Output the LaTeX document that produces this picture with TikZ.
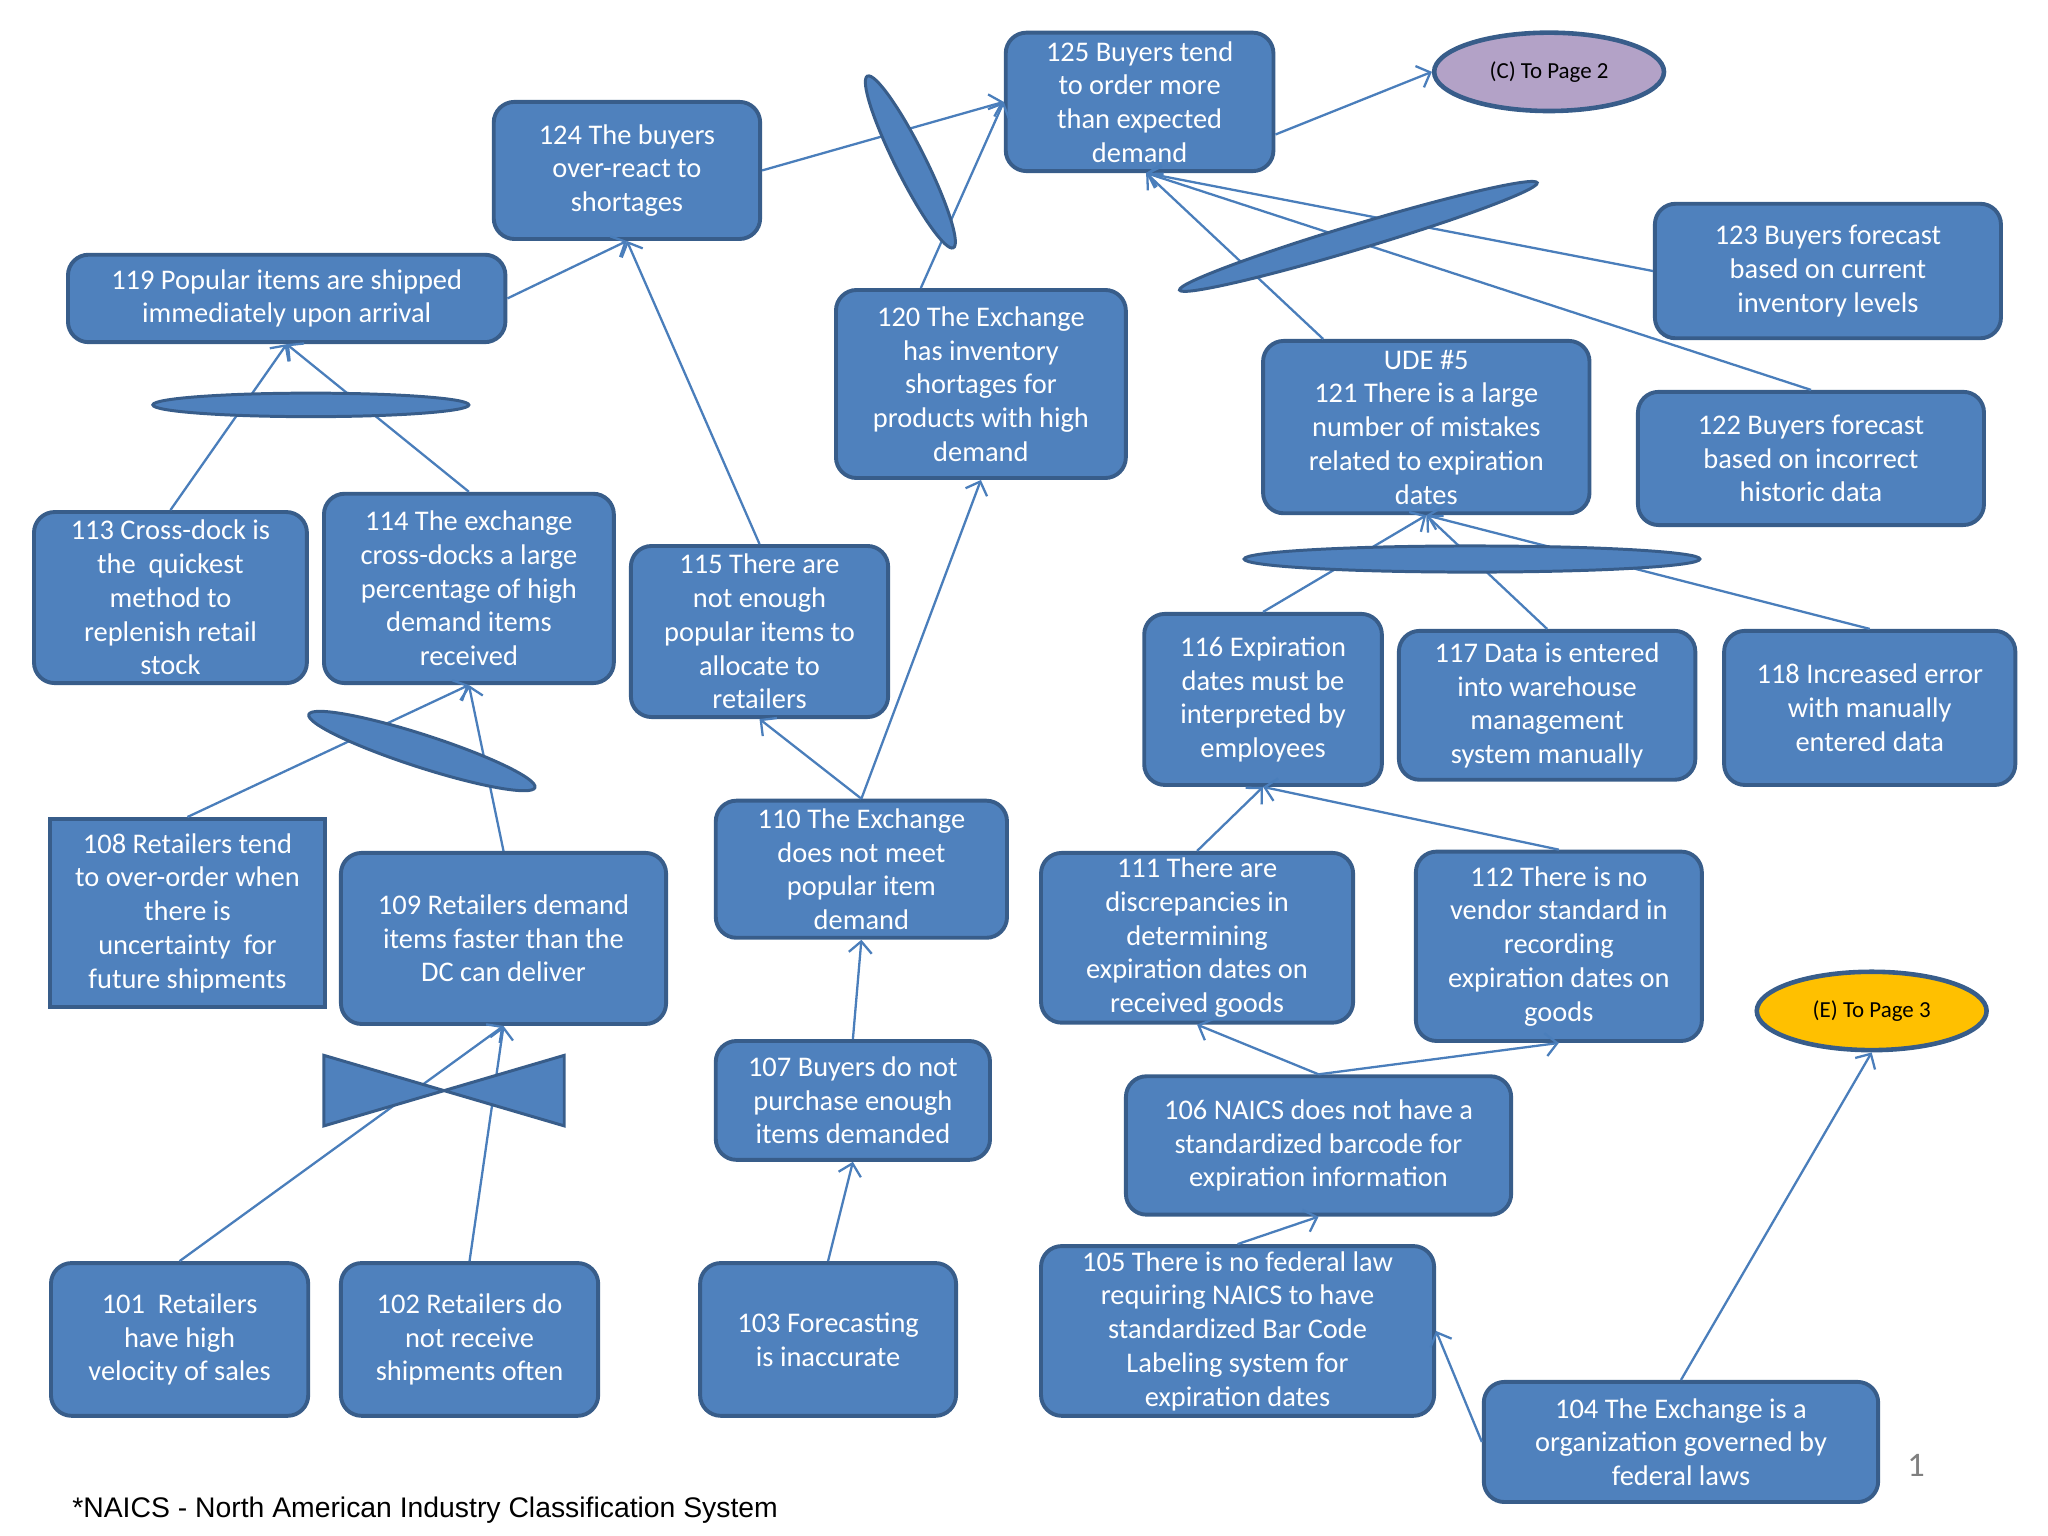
\documentclass[tikz,border=0pt]{standalone}
\usepackage{fontspec}
\setmainfont{Carlito}
\newfontfamily\arialf{Liberation Sans}
\usetikzlibrary{shapes.geometric,arrows.meta}
\definecolor{boxfill}{HTML}{4F81BD}
\definecolor{boxline}{HTML}{385D8A}
\definecolor{connc}{HTML}{4A7EBB}
\definecolor{lav}{HTML}{B3A2C7}
\definecolor{gold}{HTML}{FFC000}
\tikzset{
 box/.style={draw=boxline, fill=boxfill, line width=1.7pt, rounded corners=9pt, text=white, align=center, font=\fontsize{12.4}{14.7}\selectfont, inner sep=0pt},
 sqbox/.style={box, rounded corners=0pt},
 gate/.style={ellipse, draw=boxline, fill=boxfill, line width=1.3pt, inner sep=0pt},
 pageref/.style={ellipse, draw=boxline, line width=2pt, inner sep=0pt, minimum width=3.52cm, minimum height=1.2cm, font=\fontsize{10}{12}\selectfont, text=black},
 link/.style={draw=connc, line width=1pt, -{Straight Barb[length=5pt,width=10pt]}},
}
\begin{document}
\begin{tikzpicture}[x=0.02cm,y=-0.02cm]
\useasboundingbox (0,0) rectangle (1568,1176);
% boxes
\node[box, minimum width=4.10cm, minimum height=2.12cm] (c125) at (872.5,78) {125 Buyers tend\\to order more\\than expected\\demand};
\node[pageref, fill=lav] (pc) at (1186,55) {(C) To Page 2};
\node[box, minimum width=4.08cm, minimum height=2.10cm] (c124) at (480,130.5) {124 The buyers\\over-react to\\shortages};
\node[box, minimum width=6.70cm, minimum height=1.34cm] (c119) at (219.5,228.5) {119 Popular items are shipped\\immediately upon arrival};
\node[box, minimum width=4.18cm, minimum height=2.62cm] (c113) at (130.5,457.5) {113 Cross-dock is\\the\ \ quickest\\method to\\replenish retail\\stock};
\node[box, minimum width=4.44cm, minimum height=2.90cm] (c114) at (359,450.5) {114 The exchange\\cross-docks a large\\percentage of high\\demand items\\received};
\node[box, minimum width=3.94cm, minimum height=2.62cm] (c115) at (581.5,483.5) {115 There are\\not enough\\popular items to\\allocate to\\retailers};
\node[box, minimum width=4.44cm, minimum height=2.88cm] (c120) at (751,294) {120 The Exchange\\has inventory\\shortages for\\products with high\\demand};
\node[box, minimum width=5.00cm, minimum height=2.64cm] (c121) at (1092,327) {UDE \#5\\121 There is a large\\number of mistakes\\related to expiration\\dates};
\node[box, minimum width=5.30cm, minimum height=2.06cm] (c123) at (1399.5,207.5) {123 Buyers forecast\\based on current\\inventory levels};
\node[box, minimum width=5.30cm, minimum height=2.04cm] (c122) at (1386.5,351) {122 Buyers forecast\\based on incorrect\\historic data};
\node[box, minimum width=3.64cm, minimum height=2.62cm] (c116) at (967,535.5) {116 Expiration\\dates must be\\interpreted by\\employees};
\node[box, minimum width=4.54cm, minimum height=2.28cm] (c117) at (1184.5,540) {117 Data is entered\\into warehouse\\management\\system manually};
\node[box, minimum width=4.46cm, minimum height=2.36cm] (c118) at (1431.5,542) {118 Increased error\\with manually\\entered data};
\node[sqbox, minimum width=4.22cm, minimum height=2.88cm] (c108) at (143.5,699) {108 Retailers tend\\to over-order when\\there is\\uncertainty\ \ for\\future shipments};
\node[box, minimum width=4.98cm, minimum height=2.62cm] (c109) at (385.5,718.5) {109 Retailers demand\\items faster than the\\DC can deliver};
\node[box, minimum width=4.46cm, minimum height=2.10cm] (c110) at (659.5,665.5) {110 The Exchange\\does not meet\\popular item\\demand};
\node[box, minimum width=4.78cm, minimum height=2.60cm] (c111) at (916.5,718) {111 There are\\discrepancies in\\determining\\expiration dates on\\received goods};
\node[box, minimum width=4.38cm, minimum height=2.90cm] (c112) at (1193.5,724.5) {112 There is no\\vendor standard in\\recording\\expiration dates on\\goods};
\node[pageref, fill=gold] (pe) at (1433,774) {(E) To Page 3};
\node[box, minimum width=4.20cm, minimum height=1.82cm] (c107) at (653,842.5) {107 Buyers do not\\purchase enough\\items demanded};
\node[box, minimum width=5.90cm, minimum height=2.12cm] (c106) at (1009.5,877) {106 NAICS does not have a\\standardized barcode for\\expiration information};
\node[box, minimum width=6.02cm, minimum height=2.60cm] (c105) at (947.5,1019) {105 There is no federal law\\requiring NAICS to have\\standardized Bar Code\\Labeling system for\\expiration dates};
\node[box, minimum width=6.04cm, minimum height=1.84cm] (c104) at (1287,1104) {104 The Exchange is a\\organization governed by\\federal laws};
\node[box, minimum width=3.94cm, minimum height=2.34cm] (c101) at (137.5,1025.5) {101\ \ Retailers\\have high\\velocity of sales};
\node[box, minimum width=3.94cm, minimum height=2.34cm] (c102) at (359.5,1025.5) {102 Retailers do\\not receive\\shipments often};
\node[box, minimum width=3.92cm, minimum height=2.34cm] (c103) at (634,1025.5) {103 Forecasting\\is inaccurate};
% connectors
\draw[link] (c124.east) -- (c125.west);
\draw[link] ([xshift=-0.92cm]c120.north) -- (c125.west);
\draw[link] ([yshift=-0.5cm]c125.east) -- (pc.west);
\draw[link] (c119.east) -- (c124.south);
\draw[link] (c115.north) -- (c124.south);
\draw[link] (c113.north) -- (c119.south);
\draw[link] (c114.north) -- (c119.south);
\draw[link] (c110.north) -- (c120.south);
\draw[link] (c110.north) -- (c115.south);
\draw[link] ([xshift=-1.58cm]c121.north) -- ([xshift=0.1cm]c125.south);
\draw[link] (c123.west) -- ([xshift=0.1cm]c125.south);
\draw[link] (c122.north) -- ([xshift=0.1cm]c125.south);
\draw[link] (c116.north) -- (c121.south);
\draw[link] (c117.north) -- (c121.south);
\draw[link] (c118.north) -- (c121.south);
\draw[link] (c108.north) -- (c114.south);
\draw[link] (c109.north) -- (c114.south);
\draw[link] (c101.north) -- (c109.south);
\draw[link] (c102.north) -- (c109.south);
\draw[link] (c107.north) -- (c110.south);
\draw[link] (c103.north) -- (c107.south);
\draw[link] (c111.north) -- (c116.south);
\draw[link] (c112.north) -- (c116.south);
\draw[link] (c106.north) -- (c111.south);
\draw[link] (c106.north) -- (c112.south);
\draw[link] (c105.north) -- (c106.south);
\draw[link] (c104.west) -- (c105.east);
\draw[link] (c104.north) -- (pe.south);
% gates
\node[gate, minimum width=2.94cm, minimum height=0.46cm, rotate=-63.4] (g1) at (697,124) {};
\node[gate, minimum width=4.84cm, minimum height=0.36cm] (g2) at (238,310) {};
\node[gate, minimum width=3.64cm, minimum height=0.50cm, rotate=-17.9] (g3) at (323,575) {};
\node[gate, minimum width=5.72cm, minimum height=0.38cm, rotate=16.7] (g4) at (1040,181) {};
\node[gate, minimum width=6.98cm, minimum height=0.40cm] (g5) at (1127,428) {};
\coordinate (bt) at (340,835);
\filldraw[fill=boxfill, draw=boxline, line width=1.3pt, line join=miter] (248,808) -- (248,862) -- (bt) -- cycle;
\filldraw[fill=boxfill, draw=boxline, line width=1.3pt, line join=miter] (432,808) -- (432,862) -- (bt) -- cycle;
% texts
\node[text=gray, font=\fontsize{15}{17}\selectfont] (pg) at (1467,1122) {1};
\node[anchor=west, inner sep=0pt, font=\arialf\fontsize{12.35}{14}\selectfont] (fn) at (55,1156) {*NAICS - North American Industry Classification System};
\end{tikzpicture}
\end{document}
